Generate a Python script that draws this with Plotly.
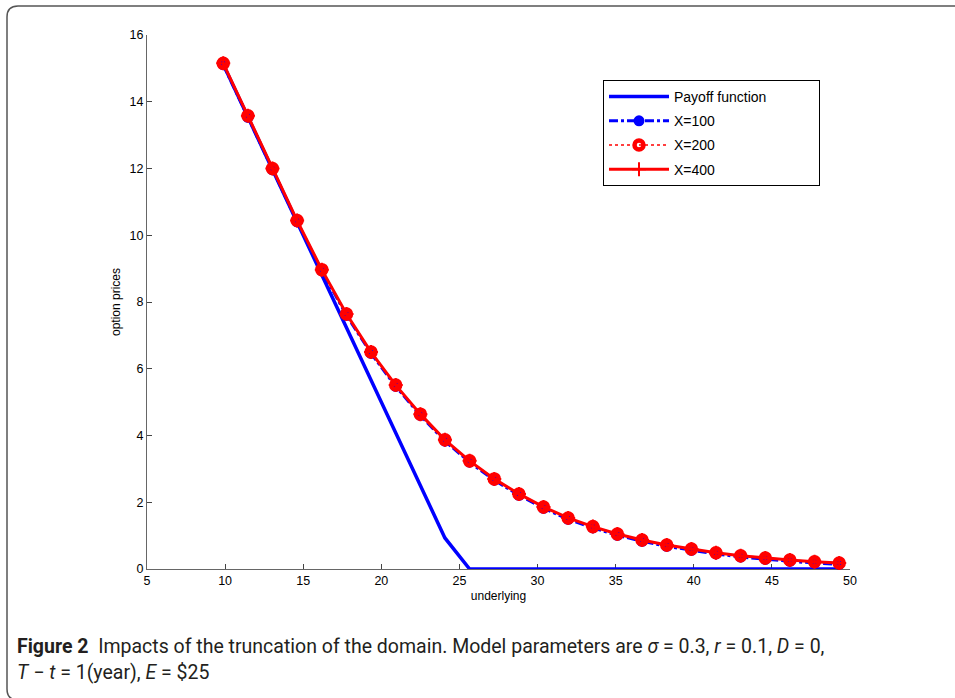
import plotly.graph_objects as go

# ---- data ----
underlying = [9.88, 11.46, 13.03, 14.61, 16.19, 17.77, 19.34, 20.92, 22.50, 24.07,
              25.65, 27.23, 28.81, 30.38, 31.96, 33.54, 35.11, 36.69, 38.27, 39.85,
              41.42, 43.00, 44.58, 46.15, 47.73, 49.31]
payoff = [15.12, 13.54, 11.97, 10.39, 8.81, 7.23, 5.66, 4.08, 2.50, 0.93,
          0, 0, 0, 0, 0, 0, 0, 0, 0, 0, 0, 0, 0, 0, 0, 0]
price_x100 = [15.11, 13.53, 11.96, 10.40, 8.93, 7.60, 6.46, 5.47, 4.60, 3.83,
              3.20, 2.66, 2.21, 1.82, 1.49, 1.23, 1.01, 0.83, 0.68, 0.56,
              0.45, 0.36, 0.29, 0.23, 0.18, 0.14]
price_x200 = [15.15, 13.58, 12.00, 10.44, 8.97, 7.64, 6.50, 5.51, 4.64, 3.87,
              3.24, 2.70, 2.25, 1.86, 1.53, 1.27, 1.05, 0.87, 0.72, 0.60,
              0.49, 0.40, 0.33, 0.27, 0.22, 0.18]
price_x400 = [15.15, 13.58, 12.00, 10.44, 8.97, 7.64, 6.50, 5.51, 4.64, 3.87,
              3.24, 2.70, 2.25, 1.86, 1.53, 1.27, 1.05, 0.87, 0.72, 0.60,
              0.49, 0.40, 0.33, 0.27, 0.22, 0.18]
x_ticks = [5, 10, 15, 20, 25, 30, 35, 40, 45, 50]
y_ticks = [0, 2, 4, 6, 8, 10, 12, 14, 16]

BLUE = "#0000ff"
RED = "#ff0000"
PAD = "\u00a0" * 12

fig = go.Figure()
fig.add_trace(go.Scatter(x=underlying, y=payoff, mode="lines", name="Payoff function" + PAD,
                         line=dict(color=BLUE, width=3.5), cliponaxis=False,
                         legendgroup="a"))
fig.add_trace(go.Scatter(x=underlying, y=price_x100, mode="lines+markers", name="X=100",
                         line=dict(color=BLUE, width=3, dash="dashdot"),
                         marker=dict(symbol="circle", size=11, color=BLUE),
                         cliponaxis=False, legendgroup="b"))
fig.add_trace(go.Scatter(x=underlying, y=price_x200, mode="lines+markers", name="X=200",
                         line=dict(color=RED, width=1.5, dash="dot"),
                         marker=dict(symbol="circle-open", size=9, color=RED,
                                     line=dict(color=RED, width=4.5)),
                         cliponaxis=False, legendgroup="c"))
fig.add_trace(go.Scatter(x=underlying, y=price_x400, mode="lines+markers", name="X=400",
                         line=dict(color=RED, width=3),
                         marker=dict(symbol="cross-thin", size=10, color=RED,
                                     line=dict(color=RED, width=2)),
                         cliponaxis=False, legendgroup="d"))

# frame (rounded rectangle) in paper coordinates
L, R, T, B = 147, 850, 35, 569
W, H = R - L, B - T
def px(x):
    return (x - L) / W
def py(y):
    return (B - y) / H
fx0, fx1, fy0, fy1 = 7, 957, 6, 700
rx, ry = 11, 11
path = (f"M {px(fx1)},{py(fy0)} L {px(fx0 + rx)},{py(fy0)} "
        f"Q {px(fx0)},{py(fy0)} {px(fx0)},{py(fy0 + ry)} "
        f"L {px(fx0)},{py(fy1 - ry)} "
        f"Q {px(fx0)},{py(fy1)} {px(fx0 + rx)},{py(fy1)}")

fig.update_layout(
    width=955, height=698,
    margin=dict(l=L, r=955 - R, t=T, b=698 - B),
    paper_bgcolor="white", plot_bgcolor="white",
    font=dict(family="Liberation Sans, Arial, sans-serif", color="black", size=12),
    showlegend=True,
    legend=dict(x=px(603), y=py(80), xanchor="left", yanchor="top",
                bordercolor="black", borderwidth=1, bgcolor="white",
                font=dict(size=14), traceorder="grouped", tracegroupgap=3,
                itemwidth=60),
    xaxis=dict(range=[5, 50], tickvals=x_ticks, ticks="inside", ticklen=5,
               tickcolor="#444", showline=True, linecolor="#666", linewidth=1.3,
               showgrid=False, zeroline=False, mirror=False, layer="below traces",
               title=dict(text="underlying", font=dict(size=12), standoff=4),
               tickfont=dict(size=12.5)),
    yaxis=dict(range=[0, 16], tickvals=y_ticks, ticks="inside", ticklen=5,
               tickcolor="#444", showline=True, linecolor="#666", linewidth=1.3,
               showgrid=False, zeroline=False, mirror=False, layer="below traces",
               title=dict(text="option prices", font=dict(size=12), standoff=6),
               tickfont=dict(size=12.5)),
    shapes=[dict(type="path", xref="paper", yref="paper", path=path,
                 line=dict(color="#555", width=1.5))],
    annotations=[
        dict(xref="paper", yref="paper", x=px(15), y=py(633), xanchor="left", yanchor="top",
             showarrow=False, align="left",
             font=dict(family="Roboto, sans-serif", size=19.5, color="#231f20"),
             text=("<b>Figure 2</b>  Impacts of the truncation of the domain. Model parameters are "
                   "<i>σ</i> = 0.3, <i>r</i> = 0.1, <i>D</i> = 0,")),
        dict(xref="paper", yref="paper", x=px(15), y=py(659), xanchor="left", yanchor="top",
             showarrow=False, align="left",
             font=dict(family="Roboto, sans-serif", size=19.5, color="#231f20"),
             text="<i>T</i> − <i>t</i> = 1(year), <i>E</i> = $25"),
    ],
)

fig.write_html("out.html")
